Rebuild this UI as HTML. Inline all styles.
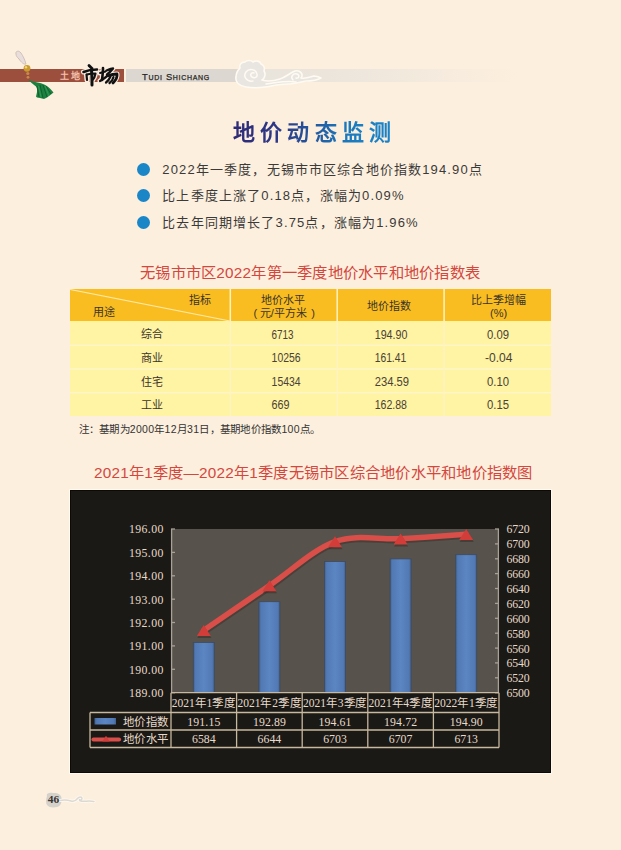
<!DOCTYPE html>
<html lang="zh-CN">
<head>
<meta charset="utf-8">
<title>地价动态监测</title>
<style>
html,body{margin:0;padding:0;}
body{width:621px;height:850px;overflow:hidden;position:relative;background:#fdefdd;font-family:"Liberation Sans",sans-serif;color:#333;}
.abs{position:absolute;white-space:nowrap;}
/* header */
#hbar{left:0;top:69px;width:124px;height:13px;background:#9d4f3d;}
#gbar{left:126px;top:69px;width:400px;height:13px;background:linear-gradient(90deg,#dcd8d1 0,#dcd8d1 110px,#e9e4dc 125px,#ebe5dc 200px,rgba(240,232,222,0.7) 300px,rgba(253,239,221,0) 392px);}
#tudi{left:60.3px;top:69.5px;font-size:9px;line-height:13px;color:#f4c0ae;letter-spacing:1.6px;font-weight:bold;}
#shichang{left:83px;top:63px;font-family:"Liberation Serif",serif;font-size:17px;line-height:22px;font-weight:bold;color:#111;letter-spacing:0px;font-style:italic;}
#tudien{left:142px;top:70px;font-size:9.4px;line-height:13px;color:#2a2724;font-variant:small-caps;letter-spacing:0.7px;-webkit-text-stroke:0.25px #2a2724;}
/* title */
#title{left:233px;top:118.5px;font-size:22px;line-height:28px;font-weight:bold;letter-spacing:5.2px;
 background:linear-gradient(90deg,#2e2a76 0,#2d3888 28%,#24559d 48%,#1c74b9 66%,#1a80c5 80%,#1a82c8 100%);-webkit-background-clip:text;background-clip:text;color:transparent;}
.dot{position:absolute;width:13px;height:13px;border-radius:50%;background:#1a86c8;}
.bl{position:absolute;left:162.3px;font-size:13px;line-height:16px;letter-spacing:1.15px;color:#3a3a3a;white-space:nowrap;}
/* table */
.ttl{position:absolute;font-size:15.3px;letter-spacing:0.25px;line-height:18px;color:#d4473f;white-space:nowrap;}
#tbl{position:absolute;left:70px;top:289px;width:481px;height:127px;}
.note{left:78.5px;top:422px;font-size:10.5px;letter-spacing:0.27px;line-height:14px;color:#333;}
</style>
</head>
<body>
<!-- header strip -->
<div class="abs" id="hbar"></div>
<div class="abs" id="gbar"></div>
<div class="abs" id="tudi">土地</div>
<div class="abs" id="tudien">Tudi Shichang</div>
<svg class="abs" style="left:0;top:0" width="621" height="110" viewBox="0 0 621 110">
  <!-- cloud -->
  <g stroke="#fffaf2" stroke-width="1.6" stroke-linejoin="round">
    <path fill="#e9e6e1" d="M262 80 C268 82 274 81 280 79 C286 77 290 73 295 71 C300 70 304 74 301 78 C306 79 310 77 314 76 C317 76 319 77 321 78 C316 81 311 81 306 81 C300 82 294 84 288 84 C280 84 272 86 265 87 C258 88 252 88 246 87 C239 86 235 82 236 77 C236 73 238 70 240 68 C239 65 241 62 245 62 C247 60 251 60 253 62 C256 60 260 61 261 64 C264 65 265 68 264 71 C266 74 265 78 262 80 Z"/>
  </g>
  <g fill="none" stroke="#fffaf2" stroke-width="1.5" stroke-linecap="round">
    <path d="M253 81 C246 82 243 76 246 72 C249 68 256 69 257 74 C258 78 253 79 251 76 C250 74 252 72 254 73"/>
    <path d="M293 80 C290 77 293 73 297 74 C300 75 299 79 296 78"/>
    <path d="M266 84 C276 83 286 80 296 82"/>
  </g>
  <!-- tassel ornament -->
  <g>
    <path d="M16 54 C15 51 19 50 21 53 C23 56 25 60 26 64 C24 65 21 62 19 59 C17 57 16 56 16 54 Z" fill="#e9dedb" stroke="#c7b8b2" stroke-width="0.8"/>
    <circle cx="27" cy="68.3" r="3.4" fill="#c99a30"/>
    <circle cx="26" cy="67.3" r="1.2" fill="#f3d27a"/>
    <ellipse cx="27.8" cy="73.5" rx="1.6" ry="1.6" fill="#c88a4a"/>
    <ellipse cx="28" cy="77.3" rx="1.4" ry="1.4" fill="#c88a4a"/>
    <path d="M28 79.5 C31 81 35 82 40 83 C45 84 49 87 53.5 92.5 L51 94.5 L47 97.5 L44 99 L40 98 L37 97.5 L36 96.5 C37 93 38 89 36 86.5 C33 84 30 82 28 79.5 Z" fill="#1c8140"/>
    <path d="M37 86 L39 97 M40 85 L43 98 M43 85 L47 97 M46 86 L51 94" stroke="#0e5e2b" stroke-width="0.9" fill="none"/>
    <path d="M38.5 86 L41 97 M45 86 L49 96" stroke="#3aa45c" stroke-width="0.7" fill="none"/>
  </g>
  <!-- 市场 calligraphy -->
  <g fill="none" stroke-linecap="round" stroke-linejoin="round">
    <g stroke="#fbeee0" stroke-width="5">
      <path d="M89 65.5 L92 68.5"/>
      <path d="M83.5 72 C87 70.5 92 69.5 97 69.5"/>
      <path d="M86.5 74.5 L87 80"/>
      <path d="M87 74.5 C90 73.5 93 73.5 95.5 73.5 C95 76 94.5 78 93 79.5"/>
      <path d="M91.5 70 C92 75 92 80 92 85"/>
      <path d="M103 68 C103 72 102.5 76 102 80"/>
      <path d="M100 73 L105.5 71.5"/>
      <path d="M100 81 C102 80 104 78.5 106 77"/>
      <path d="M106.5 70.5 C109 69.5 111.5 68.5 113 68.5 C111 71 109 73 107 74.5"/>
      <path d="M107 76 C110 75 114 74 117 74 C117.5 77 116 80 113 83"/>
      <path d="M110.5 76.5 C109.5 79 108 81 106 82.5"/>
      <path d="M113.5 77 C113 79.5 111.5 81.5 109.5 83"/>
    </g>
    <g stroke="#111" stroke-width="2.4">
      <path d="M89 65.5 L92 68.5" stroke-width="2.8"/>
      <path d="M83.5 72 C87 70.5 92 69.5 97 69.5" stroke-width="2.6"/>
      <path d="M86.5 74.5 L87 80" stroke-width="2.2"/>
      <path d="M87 74.5 C90 73.5 93 73.5 95.5 73.5 C95 76 94.5 78 93 79.5" stroke-width="2.2"/>
      <path d="M91.5 70 C92 75 92 80 92 85" stroke-width="3"/>
      <path d="M103 68 C103 72 102.5 76 102 80" stroke-width="2.6"/>
      <path d="M100 73 L105.5 71.5" stroke-width="2"/>
      <path d="M100 81 C102 80 104 78.5 106 77" stroke-width="2.2"/>
      <path d="M106.5 70.5 C109 69.5 111.5 68.5 113 68.5 C111 71 109 73 107 74.5" stroke-width="2.4"/>
      <path d="M107 76 C110 75 114 74 117 74 C117.5 77 116 80 113 83" stroke-width="2.8"/>
      <path d="M110.5 76.5 C109.5 79 108 81 106 82.5" stroke-width="2.2"/>
      <path d="M113.5 77 C113 79.5 111.5 81.5 109.5 83" stroke-width="2.2"/>
    </g>
  </g>
</svg>

<!-- title -->
<div class="abs" id="title">地价动态监测</div>

<div class="dot" style="left:137px;top:163px"></div>
<div class="dot" style="left:137px;top:189px"></div>
<div class="dot" style="left:137px;top:216px"></div>
<div class="bl" style="top:162px">2022年一季度，无锡市市区综合地价指数194.90点</div>
<div class="bl" style="top:188px">比上季度上涨了0.18点，涨幅为0.09%</div>
<div class="bl" style="top:215px">比去年同期增长了3.75点，涨幅为1.96%</div>

<!-- table -->
<div class="ttl" style="left:140px;top:263.5px">无锡市市区2022年第一季度地价水平和地价指数表</div>

<svg id="tbl" width="481" height="127" viewBox="70 289 481 127">
  <rect x="70" y="289" width="481" height="32" fill="#f9bd22"/>
  <rect x="70" y="321" width="481" height="95" fill="#fff3a4"/>
  <g stroke="#fff6c8" stroke-width="1.5">
    <line x1="70" y1="345.3" x2="551" y2="345.3"/>
    <line x1="70" y1="369.1" x2="551" y2="369.1"/>
    <line x1="70" y1="392.8" x2="551" y2="392.8"/>
  </g>
  <g stroke="#fff3c0" stroke-width="1.5">
    <line x1="230.3" y1="289" x2="230.3" y2="416"/>
    <line x1="337.2" y1="289" x2="337.2" y2="416"/>
    <line x1="444.1" y1="289" x2="444.1" y2="416"/>
  </g>
  <line x1="70" y1="289.5" x2="230" y2="321" stroke="#fde9a8" stroke-width="1.2"/>
  <g font-family="Liberation Sans, sans-serif" font-size="11" fill="#3b3428" text-anchor="middle">
    <text x="200.2" y="304.3">指标</text>
    <text x="103.7" y="315.5">用途</text>
    <text x="283.2" y="303.8">地价水平</text>
    <text x="283.4" y="316.5">元/平方米</text>
    <text x="255.3" y="316.5">(</text>
    <text x="313" y="316.5">)</text>
    <text x="389.3" y="310">地价指数</text>
    <text x="498.3" y="304">比上季增幅</text>
    <text x="498.6" y="317">(%)</text>
  </g>
  <g font-family="Liberation Sans, sans-serif" font-size="11" fill="#3b3428" text-anchor="middle">
    <text x="152" y="338.4">综合</text>
    <text x="152" y="362">商业</text>
    <text x="152" y="385.5">住宅</text>
    <text x="152" y="408.8">工业</text>
  </g>
  <g font-family="Liberation Sans, sans-serif" font-size="12" fill="#4a4234" text-anchor="start">
    <text x="271.6" y="338.6" textLength="22" lengthAdjust="spacingAndGlyphs">6713</text>
    <text x="271.6" y="362.2" textLength="29" lengthAdjust="spacingAndGlyphs">10256</text>
    <text x="271.6" y="385.6" textLength="29" lengthAdjust="spacingAndGlyphs">15434</text>
    <text x="271.6" y="408.8" textLength="18" lengthAdjust="spacingAndGlyphs">669</text>
    <text x="374.7" y="338.6" textLength="32.7" lengthAdjust="spacingAndGlyphs">194.90</text>
    <text x="374.7" y="362.2" textLength="31.5" lengthAdjust="spacingAndGlyphs">161.41</text>
    <text x="374.7" y="385.6" textLength="34.3" lengthAdjust="spacingAndGlyphs">234.59</text>
    <text x="374.7" y="408.8" textLength="32.3" lengthAdjust="spacingAndGlyphs">162.88</text>
    <text x="487" y="338.6" textLength="22" lengthAdjust="spacingAndGlyphs">0.09</text>
    <text x="485" y="362.2" textLength="27.4" lengthAdjust="spacingAndGlyphs">-0.04</text>
    <text x="487" y="385.6" textLength="22" lengthAdjust="spacingAndGlyphs">0.10</text>
    <text x="487" y="408.8" textLength="22" lengthAdjust="spacingAndGlyphs">0.15</text>
  </g>
</svg>
<div class="abs note">注：基期为2000年12月31日，基期地价指数100点。</div>

<!-- chart title -->
<div class="ttl" style="left:94px;top:463.5px">2021年1季度—2022年1季度无锡市区综合地价水平和地价指数图</div>

<!-- CHART -->
<svg class="abs" style="left:70px;top:490px;box-shadow:0 0 0 1px #fffaf0" width="481" height="283" viewBox="70 490 481 283">
<defs><linearGradient id="bg" x1="0" x2="1" y1="0" y2="0"><stop offset="0" stop-color="#41618f"/><stop offset="0.1" stop-color="#5279b4"/><stop offset="0.5" stop-color="#5b86c2"/><stop offset="0.9" stop-color="#5279b4"/><stop offset="1" stop-color="#41618f"/></linearGradient></defs>
<rect x="70" y="490" width="481" height="283" fill="#1a1916" stroke="#0d0907" stroke-width="2"/>
<rect x="171.0" y="529.0" width="328.0" height="163.7" fill="#57524b"/>
<g stroke="#a8a196" stroke-width="1.3" fill="none"><line x1="171.6" y1="529.0" x2="171.6" y2="692.7"/><line x1="498.4" y1="529.0" x2="498.4" y2="692.7"/>
<line x1="171.0" y1="529.0" x2="175.0" y2="529.0"/>
<line x1="171.0" y1="552.4" x2="175.0" y2="552.4"/>
<line x1="171.0" y1="575.8" x2="175.0" y2="575.8"/>
<line x1="171.0" y1="599.2" x2="175.0" y2="599.2"/>
<line x1="171.0" y1="622.5" x2="175.0" y2="622.5"/>
<line x1="171.0" y1="645.9" x2="175.0" y2="645.9"/>
<line x1="171.0" y1="669.3" x2="175.0" y2="669.3"/>
<line x1="171.0" y1="692.7" x2="175.0" y2="692.7"/>
<line x1="495.0" y1="529.0" x2="499.0" y2="529.0"/>
<line x1="495.0" y1="543.9" x2="499.0" y2="543.9"/>
<line x1="495.0" y1="558.8" x2="499.0" y2="558.8"/>
<line x1="495.0" y1="573.6" x2="499.0" y2="573.6"/>
<line x1="495.0" y1="588.5" x2="499.0" y2="588.5"/>
<line x1="495.0" y1="603.4" x2="499.0" y2="603.4"/>
<line x1="495.0" y1="618.3" x2="499.0" y2="618.3"/>
<line x1="495.0" y1="633.2" x2="499.0" y2="633.2"/>
<line x1="495.0" y1="648.1" x2="499.0" y2="648.1"/>
<line x1="495.0" y1="662.9" x2="499.0" y2="662.9"/>
<line x1="495.0" y1="677.8" x2="499.0" y2="677.8"/>
<line x1="495.0" y1="692.7" x2="499.0" y2="692.7"/>
</g>
<rect x="193.3" y="642.4" width="21" height="50.3" fill="url(#bg)" stroke="#3d4a5e" stroke-width="0.8"/>
<rect x="258.9" y="601.7" width="21" height="91.0" fill="url(#bg)" stroke="#3d4a5e" stroke-width="0.8"/>
<rect x="324.5" y="561.5" width="21" height="131.2" fill="url(#bg)" stroke="#3d4a5e" stroke-width="0.8"/>
<rect x="390.1" y="558.9" width="21" height="133.8" fill="url(#bg)" stroke="#3d4a5e" stroke-width="0.8"/>
<rect x="455.7" y="554.7" width="21" height="138.0" fill="url(#bg)" stroke="#3d4a5e" stroke-width="0.8"/>
<path d="M203.8 630.2 C214.7 622.8 247.5 600.3 269.4 585.6 C291.3 570.8 313.1 549.5 335.0 541.6 C356.9 533.8 378.7 539.9 400.6 538.7 C422.5 537.4 455.3 535.0 466.2 534.2" fill="none" stroke="#3a2a26" stroke-opacity="0.45" stroke-width="5.5" stroke-linecap="round" transform="translate(0.8,1.8)"/>
<path d="M203.8 630.2 C214.7 622.8 247.5 600.3 269.4 585.6 C291.3 570.8 313.1 549.5 335.0 541.6 C356.9 533.8 378.7 539.9 400.6 538.7 C422.5 537.4 455.3 535.0 466.2 534.2" fill="none" stroke="#d94e48" stroke-width="5.5" stroke-linecap="round"/>
<path d="M196.8 636.7 L203.8 624.9 L210.8 636.7 Z" fill="#3a2a26" fill-opacity="0.5" transform="translate(0.5,1.2)"/>
<path d="M196.8 635.9 L203.8 624.9 L210.8 635.9 Z" fill="#d23d39"/>
<path d="M262.4 592.1 L269.4 580.3 L276.4 592.1 Z" fill="#3a2a26" fill-opacity="0.5" transform="translate(0.5,1.2)"/>
<path d="M262.4 591.3 L269.4 580.3 L276.4 591.3 Z" fill="#d23d39"/>
<path d="M328.0 548.1 L335.0 536.3 L342.0 548.1 Z" fill="#3a2a26" fill-opacity="0.5" transform="translate(0.5,1.2)"/>
<path d="M328.0 547.3 L335.0 536.3 L342.0 547.3 Z" fill="#d23d39"/>
<path d="M393.6 545.2 L400.6 533.4 L407.6 545.2 Z" fill="#3a2a26" fill-opacity="0.5" transform="translate(0.5,1.2)"/>
<path d="M393.6 544.4 L400.6 533.4 L407.6 544.4 Z" fill="#d23d39"/>
<path d="M459.2 540.7 L466.2 528.9 L473.2 540.7 Z" fill="#3a2a26" fill-opacity="0.5" transform="translate(0.5,1.2)"/>
<path d="M459.2 539.9 L466.2 528.9 L473.2 539.9 Z" fill="#d23d39"/>
<g font-family="Liberation Serif, serif" font-size="11.8" fill="#e7dac8" text-anchor="end">
<text x="163.4" y="533.4" textLength="34.4" lengthAdjust="spacing">196.00</text>
<text x="163.4" y="556.8" textLength="34.4" lengthAdjust="spacing">195.00</text>
<text x="163.4" y="580.2" textLength="34.4" lengthAdjust="spacing">194.00</text>
<text x="163.4" y="603.6" textLength="34.4" lengthAdjust="spacing">193.00</text>
<text x="163.4" y="626.9" textLength="34.4" lengthAdjust="spacing">192.00</text>
<text x="163.4" y="650.3" textLength="34.4" lengthAdjust="spacing">191.00</text>
<text x="163.4" y="673.7" textLength="34.4" lengthAdjust="spacing">190.00</text>
<text x="163.4" y="697.1" textLength="34.4" lengthAdjust="spacing">189.00</text>
</g><g font-family="Liberation Serif, serif" font-size="11.8" fill="#e7dac8" text-anchor="start">
<text x="506.6" y="533.4" textLength="23" lengthAdjust="spacing">6720</text>
<text x="506.6" y="548.3" textLength="23" lengthAdjust="spacing">6700</text>
<text x="506.6" y="563.2" textLength="23" lengthAdjust="spacing">6680</text>
<text x="506.6" y="578.0" textLength="23" lengthAdjust="spacing">6660</text>
<text x="506.6" y="592.9" textLength="23" lengthAdjust="spacing">6640</text>
<text x="506.6" y="607.8" textLength="23" lengthAdjust="spacing">6620</text>
<text x="506.6" y="622.7" textLength="23" lengthAdjust="spacing">6600</text>
<text x="506.6" y="637.6" textLength="23" lengthAdjust="spacing">6580</text>
<text x="506.6" y="652.5" textLength="23" lengthAdjust="spacing">6560</text>
<text x="506.6" y="667.3" textLength="23" lengthAdjust="spacing">6540</text>
<text x="506.6" y="682.2" textLength="23" lengthAdjust="spacing">6520</text>
<text x="506.6" y="697.1" textLength="23" lengthAdjust="spacing">6500</text>
</g>
<g stroke="#c8b89e" stroke-width="1.3" fill="none">
<line x1="171.0" y1="692.7" x2="499.0" y2="692.7"/>
<line x1="90" y1="712.5" x2="499.0" y2="712.5"/>
<line x1="90" y1="730.0" x2="499.0" y2="730.0"/>
<line x1="90" y1="747.5" x2="499.0" y2="747.5"/>
<line x1="90" y1="712.5" x2="90" y2="747.5"/>
<line x1="171.0" y1="692.7" x2="171.0" y2="747.5"/>
<line x1="236.6" y1="692.7" x2="236.6" y2="747.5"/>
<line x1="302.2" y1="692.7" x2="302.2" y2="747.5"/>
<line x1="367.8" y1="692.7" x2="367.8" y2="747.5"/>
<line x1="433.4" y1="692.7" x2="433.4" y2="747.5"/>
<line x1="499.0" y1="692.7" x2="499.0" y2="747.5"/>
</g>
<g font-family="Liberation Serif, serif" font-size="11.8" fill="#e7dac8" text-anchor="middle">
<text x="203.8" y="707.4" textLength="64" lengthAdjust="spacingAndGlyphs">2021年1季度</text>
<text x="203.8" y="725.7" textLength="33" lengthAdjust="spacing">191.15</text>
<text x="203.8" y="743.2">6584</text>
<text x="269.4" y="707.4" textLength="64" lengthAdjust="spacingAndGlyphs">2021年2季度</text>
<text x="269.4" y="725.7" textLength="33" lengthAdjust="spacing">192.89</text>
<text x="269.4" y="743.2">6644</text>
<text x="335.0" y="707.4" textLength="64" lengthAdjust="spacingAndGlyphs">2021年3季度</text>
<text x="335.0" y="725.7" textLength="33" lengthAdjust="spacing">194.61</text>
<text x="335.0" y="743.2">6703</text>
<text x="400.6" y="707.4" textLength="64" lengthAdjust="spacingAndGlyphs">2021年4季度</text>
<text x="400.6" y="725.7" textLength="33" lengthAdjust="spacing">194.72</text>
<text x="400.6" y="743.2">6707</text>
<text x="466.2" y="707.4" textLength="64" lengthAdjust="spacingAndGlyphs">2022年1季度</text>
<text x="466.2" y="725.7" textLength="33" lengthAdjust="spacing">194.90</text>
<text x="466.2" y="743.2">6713</text>
</g>
<rect x="94.5" y="718" width="21.5" height="6.5" fill="url(#bg)"/>
<line x1="93.5" y1="739.5" x2="119" y2="739.5" stroke="#d94e48" stroke-width="4.2" stroke-linecap="round"/>
<path d="M102.3 741.5 L106 735.8 L109.7 741.5 Z" fill="#d23d39"/>
<g font-family="Liberation Serif, serif" font-size="11.8" fill="#e7dac8">
<text x="122.5" y="725.7" textLength="46.5" lengthAdjust="spacingAndGlyphs">地价指数</text>
<text x="122.5" y="743.2" textLength="46.5" lengthAdjust="spacingAndGlyphs">地价水平</text>
</g>
</svg>
<!-- /CHART -->

<!-- footer -->
<svg class="abs" style="left:0;top:780px" width="120" height="40" viewBox="0 780 120 40">
  <path d="M47 796 C46 793 50 792.5 53 793 C57 792.5 61 794 61.5 798 C62 802 61 806 57 807 C53 808 49 807.5 47 805 C45.5 803 46 799 47 796 Z" fill="#d5d1cb"/>
  <path d="M60 800.5 C64 799.5 68 800 71 801 C74 802 76 800.5 77.5 798.5 C79 796.5 82 796.5 82 798.5 C82 800 80 800.5 79.5 799.5 M79.5 800.5 C83 802 86 801 89 801 C91 801 92.5 801.5 94 801.5" fill="none" stroke="#fffaf3" stroke-width="3" stroke-linecap="round"/>
  <path d="M60 800.5 C64 799.5 68 800 71 801 C74 802 76 800.5 77.5 798.5 C79 796.5 82 796.5 82 798.5 C82 800 80 800.5 79.5 799.5 M79.5 800.5 C83 802 86 801 89 801 C91 801 92.5 801.5 94 801.5" fill="none" stroke="#dcd8d2" stroke-width="1.5" stroke-linecap="round"/>
  <text x="53.5" y="803.4" text-anchor="middle" font-family="Liberation Serif, serif" font-weight="bold" font-size="11.4" fill="#3a3633">46</text>
</svg>
</body>
</html>
